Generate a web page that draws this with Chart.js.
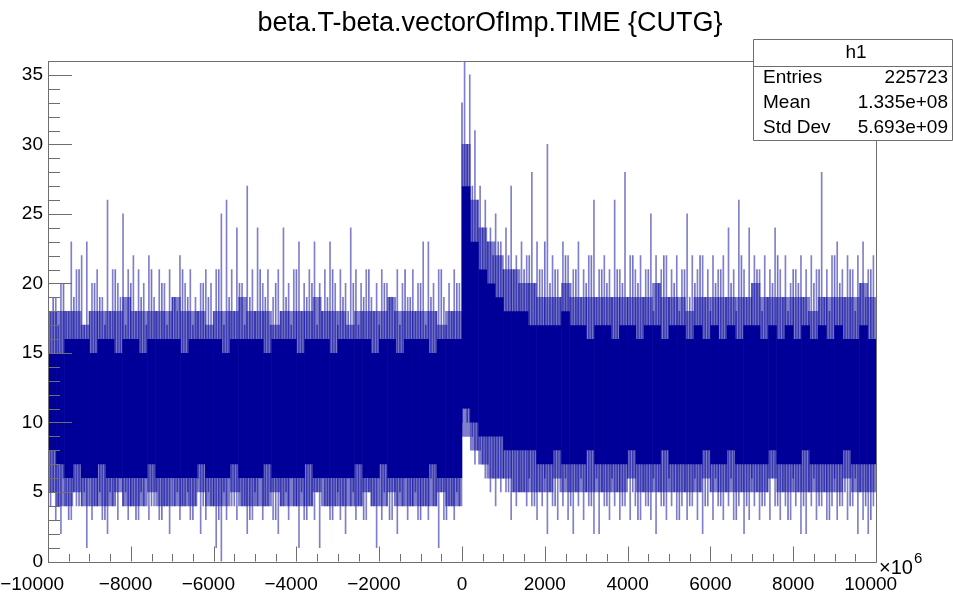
<!DOCTYPE html>
<html>
<head>
<meta charset="utf-8">
<script src="https://cdn.jsdelivr.net/npm/chart.js@4.4.1/dist/chart.umd.min.js"></script>
<style>
  html, body { margin: 0; padding: 0; background: #ffffff; }
  #wrap { width: 953px; height: 602px; position: relative; }
</style>
</head>
<body>
<div id="wrap"><canvas id="h1"></canvas></div>
<script>
'use strict';

/* ── Histogram data ────────────────────────────────────────────────────── */

const TITLE = 'beta.T-beta.vectorOfImp.TIME {CUTG}';
const X_MIN = -10000;
const X_MAX = 10000;
const Y_MAX = 36;

// band binning: 100 segments of 200 (x10^6)
const SEG_WIDTH = 200;
// solid core of the band
const coreLo = [
    8,7,6,7,6,6,7,6,6,6, 6,6,7,6,6,6,6,6,7,6, 6,6,7,6,6,6,7,6,6,6, 6,7,6,6,6,6,6,7,6,6, 7,6,6,6,6,6,7,6,6,6,
    11,10,9,9,9,8,8,8,8,7, 7,8,7,7,7,8,7,7,7,7, 8,7,7,7,8,7,7,7,7,8, 7,7,8,7,7,7,7,8,7,7, 7,8,7,7,7,7,8,7,7,7
];
const coreHi = [
    15,15,16,16,16,15,16,16,15,16, 16,15,16,16,16,16,15,16,16,16, 16,15,16,16,16,16,15,16,16,16, 15,16,16,16,15,16,16,16,16,15, 16,16,15,16,16,16,15,16,16,16,
    27,23,21,20,19,18,18,18,17,17, 17,17,18,17,17,16,17,17,16,17, 17,16,17,17,16,17,17,16,17,16, 17,16,17,16,17,17,16,17,16,17, 16,17,16,17,16,17,16,16,17,16
];
// dense fringe around the core
const fringeLo = [
    5,4,4,5,4,4,4,4,5,4, 4,4,5,4,4,4,4,4,5,4, 4,4,5,4,4,4,4,5,4,4, 4,4,5,4,4,4,4,4,5,4, 4,5,4,4,4,4,4,5,4,4,
    9,8,7,6,6,6,5,5,5,5, 5,6,5,5,5,5,5,5,5,5, 6,5,5,5,5,5,5,5,5,6, 5,5,5,5,5,5,5,6,5,5, 5,5,5,5,5,5,6,5,5,5
];
const fringeHi = [
    18,18,18,18,17,18,18,18,18,19, 18,18,18,18,18,19,18,18,18,17, 18,18,18,19,18,18,18,17,18,18, 18,18,19,18,18,18,17,18,18,18, 18,19,18,18,18,18,18,17,18,18,
    30,26,24,23,22,21,21,20,20,19, 19,19,20,19,19,19,19,19,19,19, 19,19,19,20,19,19,19,18,19,19, 19,19,19,19,19,20,19,19,19,19, 19,19,18,19,19,19,19,19,20,19
];

// spike binning: 160 columns of 125 (x10^6), min / max bin content per column
const SPIKE_WIDTH = 125;
const spikeLo = [
    4,3,2,4,3,4,4,1,3,4, 3,2,4,3,4,3,4,3,4,3, 4,3,4,2,4,3,4,3,4,2, 3,4,1,0,3,4,3,4,2,3,
    4,3,4,3,2,4,3,4,1,3, 4,3,1,4,3,4,3,2,4,3, 4,3,4,1,3,4,3,2,4,3, 4,3,4,3,4,1,3,4,3,4,
    11,10,7,8,6,5,4,5,5,3, 4,5,4,4,3,4,2,4,3,4, 3,2,4,3,4,2,2,4,3,4, 3,4,3,4,3,4,3,2,4,3,
    4,3,4,3,4,3,2,4,3,4, 3,4,3,4,2,3,4,3,4,3, 4,3,4,3,4,2,2,4,3,4, 3,4,3,4,3,4,2,3,2,4
];
const spikeHi = [
    18,19,20,18,23,21,22,23,20,21, 19,26,21,20,25,21,22,21,20,22, 19,21,20,21,19,22,20,21,19,20, 21,20,21,25,26,21,24,20,27,21,
    24,20,21,19,21,24,20,21,23,20, 21,23,20,21,23,20,21,20,24,21, 20,21,19,20,21,20,19,21,20,19, 21,20,23,23,20,21,19,20,21,20,
    36,35,31,27,26,24,25,23,24,27, 22,23,22,28,23,21,30,22,21,23, 22,21,23,21,22,26,21,22,21,26, 21,28,22,21,22,21,25,22,21,22,
    21,22,21,25,22,21,22,21,22,21, 22,24,21,26,21,24,22,21,22,21, 24,21,22,20,21,22,21,22,21,28, 21,22,23,21,22,21,22,23,21,22
];
// second set of columns, on the spike-bin edges (159 inner edges)
const edgeLo = [
    5,4,6,3,5,4,5,6,4,5, 3,5,4,6,5,4,3,5,6,4, 5,3,4,6,5,4,5,3,6,4, 5,4,3,5,6,4,5,4,3,5,
    6,4,5,3,4,5,6,4,5,3, 4,5,6,4,3,5,4,6,5,4, 3,5,4,6,5,3,4,5,6,4, 5,3,4,6,4,5,3,4,5,
    10,10,9,8,7,7,6,6,6,5, 5,5,5,6,4,5,6,5,4,5, 6,4,5,6,5,4,6,5,4,6, 5,4,6,5,3,5,4,6,5,4,
    6,5,3,5,4,6,5,4,5,6, 4,5,6,3,5,4,6,5,4,5, 6,4,5,3,6,5,4,5,6,4, 5,3,6,4,5,4,6,5,4,3
];
const edgeHi = [
    19,17,20,18,19,21,17,18,20,19, 17,18,21,19,17,20,18,19,17,21, 18,20,17,19,18,21,19,17,18,20, 19,18,21,17,19,18,20,17,19,18,
    21,19,17,20,18,19,17,21,18,19, 20,17,18,19,21,17,19,18,20,17, 19,21,18,17,20,19,18,17,21,19, 18,20,17,19,18,21,17,18,20,
    33,30,27,26,24,23,22,23,21,22, 21,20,21,22,20,21,23,20,21,19, 22,20,21,19,20,22,19,21,20,19, 21,20,19,22,20,19,21,18,20,22,
    19,20,18,21,19,20,22,19,18,20, 21,19,20,18,22,19,20,21,18,19, 20,22,19,18,21,20,19,18,20,21, 19,18,22,20,19,21,18,20,19,21
];

const statLabels = ['Entries', 'Mean', 'Std Dev'];
const statValues = ['225723', '1.335e+08', '5.693e+09'];

/* ── Styles ────────────────────────────────────────────────────────────── */

const FONT = '"Liberation Sans", Arial, Helvetica, sans-serif';
const NAVY = '#000099';
const AXIS = '#6e6e6e';

const segPoints = (lo, hi) => lo.map((v, i) => ({ x: X_MIN + SEG_WIDTH * (i + 0.5), y: [v, hi[i]] }));
const spikePoints = spikeLo.map((v, i) => ({ x: X_MIN + SPIKE_WIDTH * (i + 0.5), y: [v, spikeHi[i]] }));
const edgePoints = edgeLo.map((v, i) => ({ x: X_MIN + SPIKE_WIDTH * (i + 1), y: [v, edgeHi[i]] }));

function fmtX(v) {
    // ROOT centres the digits, the minus sign hangs to the left;
    // the end labels are pulled in a little
    if (v === X_MIN) return '\u2212' + Math.abs(v) + '\u2007\u2007\u2007';
    if (v === X_MAX) return String(v) + '\u2007';
    return v < 0 ? '\u2212' + Math.abs(v) + '\u2007' : String(v);
}

/* ── Frame, inward ticks, title and stats box (ROOT look) ──────────────── */

const rootDecor = {
    id: 'rootDecor',
    afterDatasetsDraw(chart) {
        const { ctx, chartArea: a, scales } = chart;
        const sx = scales.x, sy = scales.y;
        ctx.save();
        ctx.strokeStyle = AXIS;
        ctx.lineWidth = 1;

        // frame
        ctx.beginPath();
        ctx.rect(Math.round(a.left) + 0.5, Math.round(a.top) + 0.5,
                 Math.round(a.right) - Math.round(a.left), Math.round(a.bottom) - Math.round(a.top));
        ctx.stroke();

        // y ticks (major 5, minor 1), pointing inside
        ctx.beginPath();
        for (let v = 0; v <= Y_MAX; v += 1) {
            const y = Math.round(sy.getPixelForValue(v)) + 0.5;
            const len = v % 5 === 0 ? 24 : 12;
            ctx.moveTo(a.left, y);
            ctx.lineTo(a.left + len, y);
        }
        // x ticks (major 2000, minor 500)
        for (let v = X_MIN; v <= X_MAX; v += 500) {
            const x = Math.round(sx.getPixelForValue(v)) + 0.5;
            const len = v % 2000 === 0 ? 15 : 7.5;
            ctx.moveTo(x, a.bottom);
            ctx.lineTo(x, a.bottom - len);
        }
        ctx.stroke();

        // x10^6 exponent
        ctx.fillStyle = '#000';
        ctx.textBaseline = 'alphabetic';
        ctx.textAlign = 'left';
        ctx.font = '20px ' + FONT;
        ctx.fillText('\u00d710', a.right + 3, a.bottom + 12);
        const w = ctx.measureText('\u00d710').width;
        ctx.font = '15px ' + FONT;
        ctx.fillText('6', a.right + 3 + w + 1, a.bottom + 1);

        // title
        ctx.font = '27px ' + FONT;
        ctx.textAlign = 'center';
        ctx.fillText(TITLE, 490, 31);

        // stats box
        const bx = 753.5, by = 39.5, bw = 200, bh = 101;
        ctx.fillStyle = '#fff';
        ctx.fillRect(bx, by, bw, bh);
        ctx.beginPath();
        ctx.rect(bx, by, bw - 1, bh);
        ctx.moveTo(bx, 66.5);
        ctx.lineTo(bx + bw, 66.5);
        ctx.stroke();
        ctx.fillStyle = '#000';
        ctx.font = '19px ' + FONT;
        ctx.textBaseline = 'middle';
        ctx.textAlign = 'center';
        ctx.fillText('h1', 856, 53);
        statLabels.forEach((lab, i) => {
            const y = 78 + i * 25;
            ctx.textAlign = 'left';
            ctx.fillText(lab, 763, y);
            ctx.textAlign = 'right';
            ctx.fillText(statValues[i], 948, y);
        });
        ctx.restore();
    },
};

/* ── Chart ─────────────────────────────────────────────────────────────── */

const ctxH = document.getElementById('h1').getContext('2d');
new Chart(ctxH, {
    type: 'bar',
    data: {
        datasets: [
            {
                label: 'core',
                data: segPoints(coreLo, coreHi),
                xAxisID: 'xb',
                backgroundColor: NAVY,
                barPercentage: 1.04,
                categoryPercentage: 1,
                grouped: false,
                borderWidth: 0,
            },
            {
                label: 'spikes',
                data: spikePoints,
                xAxisID: 'x',
                backgroundColor: 'rgba(0,0,153,0.5)',
                barThickness: 1,
                grouped: false,
                borderWidth: 0,
            },
            {
                label: 'edges',
                data: edgePoints,
                xAxisID: 'x',
                backgroundColor: 'rgba(0,0,153,0.55)',
                barThickness: 1,
                grouped: false,
                borderWidth: 0,
            },
            {
                label: 'fringe',
                data: segPoints(fringeLo, fringeHi),
                xAxisID: 'xb',
                backgroundColor: 'rgba(0,0,153,0.5)',
                barPercentage: 1,
                categoryPercentage: 1,
                grouped: false,
                borderWidth: 0,
            },
        ],
    },
    options: {
        responsive: true,
        maintainAspectRatio: false,
        animation: false,
        layout: { padding: { top: 61, right: 77, left: 0, bottom: 0 } },
        plugins: {
            legend: { display: false },
            tooltip: { enabled: false },
        },
        scales: {
            x: {
                type: 'linear',
                min: X_MIN,
                max: X_MAX,
                offset: false,
                grid: { display: false, drawTicks: false },
                border: { display: false },
                afterFit: s => {
                    s.height = 40.5;
                    // labels may overhang the frame, keep the plot area fixed
                    s.paddingLeft = 0;
                    s.paddingRight = 0;
                },
                ticks: {
                    stepSize: 2000,
                    includeBounds: false,
                    autoSkip: false,
                    maxRotation: 0,
                    padding: 12,
                    color: '#000',
                    font: { family: FONT, size: 19 },
                    callback: v => fmtX(v),
                },
            },
            xb: {
                type: 'linear',
                display: false,
                min: X_MIN,
                max: X_MAX,
                offset: false,
            },
            y: {
                min: 0,
                max: Y_MAX,
                grid: { display: false, drawTicks: false },
                border: { display: false },
                afterFit: s => { s.width = 48; },
                ticks: {
                    stepSize: 5,
                    includeBounds: false,
                    padding: 5,
                    color: '#000',
                    font: { family: FONT, size: 19 },
                },
            },
        },
    },
    plugins: [rootDecor],
});
</script>
</body>
</html>
